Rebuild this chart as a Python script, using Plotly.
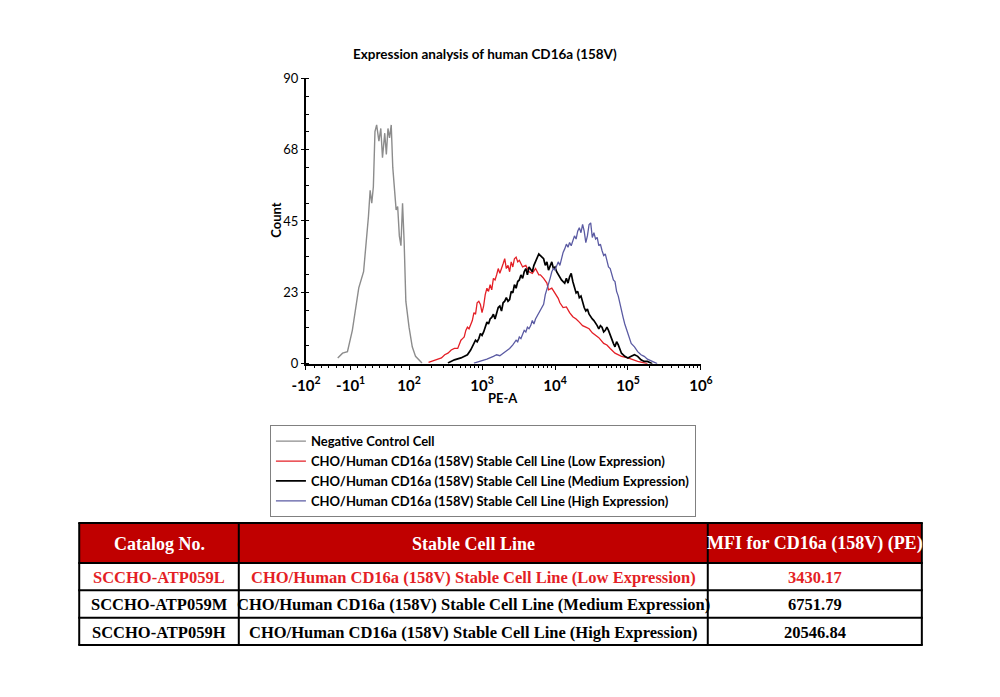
import math
import plotly.graph_objects as go

# ---------------- data (x in decade units of the biexponential PE-A axis) -------------
neg_x = [1.023, 1.089, 1.156, 1.223, 1.311, 1.377, 1.444, 1.467, 1.489, 1.511, 1.533, 1.556,
         1.587, 1.613, 1.636, 1.667, 1.689, 1.711, 1.733, 1.756, 1.777, 1.800, 1.823, 1.844,
         1.867, 1.889, 1.911, 1.933, 1.956, 2.000, 2.044, 2.089, 2.133, 2.177]
neg_y = [1.8, 3.3, 3.8, 10.5, 23.9, 29.0, 46.5, 54.7, 50.6, 55.8, 73.2, 75.3,
         70.2, 74.2, 65.0, 72.7, 66.0, 74.2, 71.2, 75.3, 61.9, 53.6, 48.5, 49.6,
         40.3, 37.2, 50.6, 38.3, 19.7, 11.5, 5.3, 2.3, 1.2, 0.2]

low_x = [2.267, 2.356, 2.444, 2.489, 2.533, 2.578, 2.622, 2.667, 2.689, 2.711, 2.733, 2.756,
         2.778, 2.8, 2.822, 2.844, 2.867, 2.889, 2.911, 2.933, 2.956, 2.978, 3.0, 3.022,
         3.044, 3.067, 3.089, 3.111, 3.133, 3.156, 3.178, 3.2, 3.222, 3.244, 3.267, 3.289,
         3.311, 3.333, 3.356, 3.378, 3.4, 3.422, 3.444, 3.467, 3.489, 3.511, 3.556, 3.6,
         3.644, 3.689, 3.733, 3.778, 3.8, 3.844, 3.889, 3.911, 3.956, 4.0, 4.044, 4.067,
         4.111, 4.156, 4.2, 4.244, 4.289, 4.333, 4.378, 4.422, 4.467, 4.511, 4.556, 4.6,
         4.667, 4.711, 4.756, 4.822, 4.911, 5.0, 5.133, 5.267]
low_y = [0.4, 1.0, 1.8, 2.8, 3.3, 4.3, 4.8, 4.8, 6.4, 7.4, 7.9, 8.4,
         10.5, 11.5, 11.0, 12.5, 13.6, 16.1, 15.6, 19.2, 19.7, 18.7, 16.1, 18.2,
         21.8, 23.8, 22.8, 24.9, 23.3, 26.9, 26.4, 28.0, 30.0, 28.5, 30.5, 31.5,
         33.1, 30.0, 31.0, 29.0, 32.1, 30.5, 33.1, 33.6, 32.1, 32.6, 30.5, 31.0,
         29.0, 28.5, 30.0, 28.0, 28.0, 26.9, 25.4, 23.3, 23.8, 22.3, 20.6, 19.2,
         17.7, 17.9, 16.1, 14.8, 14.1, 13.1, 12.0, 11.5, 11.0, 9.7, 8.9, 8.2,
         6.4, 5.9, 4.8, 3.3, 2.3, 1.8, 0.7, 0.0]

med_x = [2.533, 2.622, 2.711, 2.756, 2.8, 2.844, 2.867, 2.889, 2.911, 2.933, 2.956, 2.978,
         3.0, 3.022, 3.044, 3.067, 3.089, 3.111, 3.133, 3.156, 3.178, 3.2, 3.222, 3.244,
         3.267, 3.289, 3.311, 3.333, 3.356, 3.378, 3.4, 3.422, 3.444, 3.467, 3.489, 3.511,
         3.533, 3.556, 3.578, 3.6, 3.622, 3.644, 3.667, 3.689, 3.711, 3.733, 3.756, 3.778,
         3.8, 3.844, 3.867, 3.889, 3.911, 3.933, 3.956, 3.978, 4.0, 4.022, 4.044, 4.067,
         4.089, 4.111, 4.133, 4.156, 4.178, 4.2, 4.222, 4.244, 4.267, 4.289, 4.311, 4.333,
         4.356, 4.378, 4.4, 4.422, 4.444, 4.467, 4.489, 4.511, 4.533, 4.556, 4.578, 4.6,
         4.622, 4.644, 4.667, 4.689, 4.711, 4.733, 4.756, 4.778, 4.8, 4.822, 4.844, 4.867,
         4.889, 4.911, 4.956, 5.0, 5.044, 5.089, 5.133, 5.178, 5.222, 5.267, 5.333]
med_y = [0.2, 1.2, 1.8, 2.3, 2.8, 4.3, 5.3, 6.4, 7.4, 6.9, 7.9, 9.5,
         8.9, 10.0, 11.5, 13.1, 12.5, 14.1, 14.6, 15.6, 14.1, 16.1, 17.7, 18.2,
         16.6, 19.2, 19.7, 20.8, 19.7, 20.2, 22.8, 22.3, 24.9, 23.8, 25.9, 26.4,
         28.0, 26.9, 29.0, 30.0, 28.0, 30.5, 29.5, 29.0, 31.0, 32.1, 33.6, 34.6,
         34.1, 33.1, 31.0, 32.1, 29.5, 31.0, 32.1, 30.0, 30.5, 29.0, 28.0, 26.9,
         26.4, 25.9, 25.4, 26.9, 25.4, 27.4, 28.5, 25.9, 23.8, 22.3, 22.8, 20.8,
         21.3, 19.2, 17.7, 16.6, 17.2, 15.6, 14.6, 14.1, 13.6, 12.5, 12.0, 11.0,
         12.0, 11.5, 10.0, 10.5, 11.5, 10.5, 8.9, 7.4, 6.4, 5.3, 6.9, 5.9,
         4.3, 3.3, 2.3, 1.8, 2.3, 2.8, 2.3, 1.2, 0.7, 0.7, 0.0]

high_x = [2.889, 2.978, 3.067, 3.156, 3.2, 3.244, 3.289, 3.333, 3.378, 3.422, 3.467, 3.489,
          3.511, 3.533, 3.556, 3.578, 3.6, 3.622, 3.644, 3.667, 3.689, 3.711, 3.733, 3.756,
          3.778, 3.8, 3.822, 3.844, 3.867, 3.889, 3.911, 3.933, 3.956, 3.978, 4.0, 4.022,
          4.044, 4.067, 4.089, 4.111, 4.133, 4.156, 4.178, 4.2, 4.222, 4.244, 4.267, 4.289,
          4.311, 4.333, 4.356, 4.378, 4.4, 4.422, 4.444, 4.467, 4.489, 4.511, 4.533, 4.556,
          4.578, 4.6, 4.622, 4.644, 4.667, 4.689, 4.711, 4.733, 4.756, 4.778, 4.8, 4.822,
          4.844, 4.867, 4.889, 4.911, 4.933, 4.956, 4.978, 5.0, 5.022, 5.044, 5.089, 5.133,
          5.178, 5.222, 5.267, 5.311, 5.356, 5.4]
high_y = [0.2, 0.7, 1.4, 2.3, 2.8, 2.5, 3.3, 3.8, 4.8, 5.9, 7.4, 6.9,
          8.4, 7.9, 9.5, 10.5, 10.0, 11.5, 11.0, 12.0, 13.6, 12.5, 14.1, 15.1,
          16.1, 16.6, 17.7, 18.7, 21.8, 23.3, 25.4, 26.9, 29.0, 30.0, 29.5, 31.0,
          32.1, 31.0, 33.1, 35.1, 36.2, 37.7, 36.7, 38.2, 37.2, 38.7, 40.3, 39.3,
          41.8, 42.9, 41.3, 43.9, 41.8, 38.2, 40.3, 43.9, 44.4, 39.8, 41.3, 39.3,
          39.8, 37.2, 37.7, 35.7, 34.1, 34.6, 32.1, 30.5, 30.0, 28.0, 26.4, 25.9,
          22.8, 21.3, 18.7, 16.6, 14.6, 12.5, 11.0, 9.5, 7.9, 6.4, 5.3, 3.8,
          2.8, 2.3, 1.4, 1.0, 0.4, 0.0]

series_names = ["Negative Control Cell",
                "CHO/Human CD16a (158V) Stable Cell Line (Low Expression)",
                "CHO/Human CD16a (158V) Stable Cell Line (Medium Expression)",
                "CHO/Human CD16a (158V) Stable Cell Line (High Expression)"]

x_tick_vals = [0.587, 1.2, 2, 3, 4, 5, 6]
x_tick_text = ["-10<sup>2</sup>", "-10<sup>1</sup>", "10<sup>2</sup>", "10<sup>3</sup>",
               "10<sup>4</sup>", "10<sup>5</sup>", "10<sup>6</sup>"]
y_tick_vals = [0, 22.5, 45, 67.5, 90]
y_tick_text = ["0", "23", "45", "68", "90"]

table_header = ["Catalog No.", "Stable Cell Line", "MFI for CD16a (158V) (PE)"]
catalog = ["SCCHO-ATP059L", "SCCHO-ATP059M", "SCCHO-ATP059H"]
cell_lines = ["CHO/Human CD16a (158V) Stable Cell Line (Low Expression)",
              "CHO/Human CD16a (158V) Stable Cell Line (Medium Expression)",
              "CHO/Human CD16a (158V) Stable Cell Line (High Expression)"]
mfi = ["3430.17", "6751.79", "20546.84"]
row_colors = ["#e41f26", "#000000", "#000000"]

# ---------------- geometry helpers (page pixels -> paper fractions) -----------------
W, H = 1000, 697


def fx(px):
    return px / W


def fy(py):
    return 1 - py / H


colors = ["#8c8c8c", "#e41f26", "#000000", "#5b5ba3"]
widths = [1.4, 1.3, 1.7, 1.3]

fig = go.Figure()
for xs, ys, name, c, w in zip([neg_x, low_x, med_x, high_x], [neg_y, low_y, med_y, high_y],
                              series_names, colors, widths):
    fig.add_trace(go.Scatter(x=xs, y=ys, mode="lines", name=name,
                             line=dict(color=c, width=w)))

# ---------------- table (drawn with shapes + text) -----------------
col_edges = [66, 230, 712, 932]
row_edges = [527, 568, 596, 624, 652]
shapes = [dict(type="rect", xref="paper", yref="paper", x0=fx(col_edges[0]), x1=fx(col_edges[-1]),
               y0=fy(row_edges[1]), y1=fy(row_edges[0]), fillcolor="#c00000", line=dict(width=0),
               layer="below")]
for yy in row_edges:
    shapes.append(dict(type="line", xref="paper", yref="paper", x0=fx(col_edges[0] - 1),
                       x1=fx(col_edges[-1] + 1), y0=fy(yy), y1=fy(yy),
                       line=dict(color="black", width=2)))
for xx in col_edges:
    shapes.append(dict(type="line", xref="paper", yref="paper", x0=fx(xx), x1=fx(xx),
                       y0=fy(row_edges[-1]), y1=fy(row_edges[0]),
                       line=dict(color="black", width=2)))

annotations = []
col_centers = [(a + b) / 2 for a, b in zip(col_edges[:-1], col_edges[1:])]
row_centers = [(a + b) / 2 for a, b in zip(row_edges[:-1], row_edges[1:])]
for cx, txt in zip(col_centers, table_header):
    annotations.append(dict(text=txt, x=fx(cx), y=fy(row_centers[0] + 1),
                            xref="paper", yref="paper", showarrow=False,
                            xanchor="center", yanchor="middle",
                            font=dict(family="Liberation Serif", size=18, color="white",
                                      weight="bold")))
for ri, (cat, line_name, val, col) in enumerate(zip(catalog, cell_lines, mfi, row_colors)):
    for cx, txt in zip(col_centers, [cat, line_name, val]):
        annotations.append(dict(text=txt, x=fx(cx), y=fy(row_centers[ri + 1] + 1),
                                xref="paper", yref="paper", showarrow=False,
                                xanchor="center", yanchor="middle",
                                font=dict(family="Liberation Serif", size=16.5, color=col,
                                          weight="bold")))

# title and axis titles
annotations += [
    dict(text="Expression analysis of human CD16a (158V)", x=fx(483), y=fy(47),
         xref="paper", yref="paper", showarrow=False, xanchor="center", yanchor="middle",
         font=dict(family="Lato", size=13.5, color="black", weight="bold")),
    dict(text="Count", x=fx(268), y=fy(217), xref="paper", yref="paper",
         showarrow=False, textangle=-90, xanchor="center", yanchor="middle",
         font=dict(family="Lato", size=13, color="black", weight="bold")),
    dict(text="PE-A", x=fx(502), y=fy(399), xref="paper", yref="paper",
         showarrow=False, xanchor="center", yanchor="middle",
         font=dict(family="Lato", size=13, color="black", weight="bold")),
]

minor_x = [round(v / 10, 2) for v in range(7, 20)] + \
          [round(d + math.log10(k), 3) for d in range(2, 6) for k in range(2, 10)]

fig.update_layout(
    width=W, height=H,
    margin=dict(l=0, r=0, t=0, b=0),
    paper_bgcolor="white", plot_bgcolor="white",
    font=dict(family="Lato", size=12, color="black"),
    showlegend=True,
    legend=dict(x=fx(262), y=fy(427), xanchor="left", yanchor="top",
                bordercolor="#808080", borderwidth=1, bgcolor="white",
                font=dict(family="Lato", size=13, color="black", weight="bold"),
                tracegroupgap=0, itemwidth=30),
    xaxis=dict(domain=[fx(299), fx(705)], range=[0.587, 6.0], showgrid=False, zeroline=False,
               showline=True, linecolor="black", linewidth=2,
               ticks="outside", ticklen=4, tickwidth=1, tickcolor="black",
               tickmode="array", tickvals=x_tick_vals, ticktext=x_tick_text,
               tickfont=dict(family="Lato", size=15, weight="bold"), ticklabelstandoff=3,
               minor=dict(tickmode="array", tickvals=minor_x, ticks="outside", ticklen=2,
                          tickcolor="black")),
    yaxis=dict(domain=[fy(364), fy(72)], range=[0, 90], showgrid=False, zeroline=False,
               showline=True, linecolor="black", linewidth=2,
               ticks="outside", ticklen=3, tickwidth=1, tickcolor="black",
               tickmode="array", tickvals=y_tick_vals, ticktext=y_tick_text,
               tickfont=dict(family="Lato", size=13),
               minor=dict(dtick=5.625, tick0=0, ticks="inside", ticklen=3, tickcolor="black")),
    shapes=shapes,
    annotations=annotations,
)

fig.write_html("out.html", config={"displayModeBar": False},
               post_script="document.body.style.margin='0';"
                           "document.documentElement.style.overflow='hidden';")
